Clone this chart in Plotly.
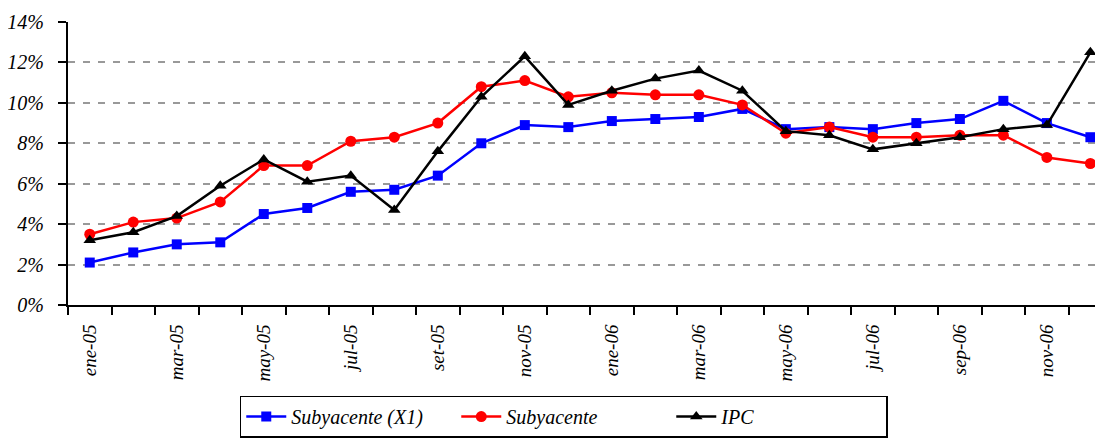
import plotly.graph_objects as go

# Monthly inflation series, ene-05 .. dic-06 (%)
months = ["ene-05", "feb-05", "mar-05", "abr-05", "may-05", "jun-05",
          "jul-05", "ago-05", "set-05", "oct-05", "nov-05", "dic-05",
          "ene-06", "feb-06", "mar-06", "abr-06", "may-06", "jun-06",
          "jul-06", "ago-06", "sep-06", "oct-06", "nov-06", "dic-06"]

subyacente_x1 = [2.1, 2.6, 3.0, 3.1, 4.5, 4.8, 5.6, 5.7, 6.4, 8.0, 8.9, 8.8,
                 9.1, 9.2, 9.3, 9.7, 8.7, 8.8, 8.7, 9.0, 9.2, 10.1, 9.0, 8.3]
subyacente = [3.5, 4.1, 4.3, 5.1, 6.9, 6.9, 8.1, 8.3, 9.0, 10.8, 11.1, 10.3,
              10.5, 10.4, 10.4, 9.9, 8.5, 8.8, 8.3, 8.3, 8.4, 8.4, 7.3, 7.0]
ipc = [3.2, 3.6, 4.4, 5.9, 7.2, 6.1, 6.4, 4.7, 7.6, 10.3, 12.3, 9.9,
       10.6, 11.2, 11.6, 10.6, 8.6, 8.4, 7.7, 8.0, 8.3, 8.7, 8.9, 12.5]

label_idx = list(range(0, len(months), 2))
label_text = [months[i] for i in label_idx]

FONT = "Liberation Serif"
x = list(range(len(months)))

fig = go.Figure()

series = [
    ("Subyacente (X1)", subyacente_x1, "#0000ff", "square", 10),
    ("Subyacente", subyacente, "#ff0000", "circle", 11),
    ("IPC", ipc, "#000000", "triangle-up", 11),
]
for name, vals, color, symbol, size in series:
    fig.add_trace(go.Scatter(
        x=x, y=vals, name=name, mode="lines+markers",
        line=dict(color=color, width=2.5),
        marker=dict(symbol=symbol, size=size, color=color),
    ))

# the page body has an 8px margin, so the figure is offset by 8px
fig.update_layout(
    width=1095, height=430,
    margin=dict(l=60, r=0, t=14, b=130),
    plot_bgcolor="white", paper_bgcolor="white",
    font=dict(family=FONT, size=19, color="black", style="italic"),
    showlegend=True,
    legend=dict(
        orientation="h", x=0.479, xanchor="center", y=-0.32, yanchor="top",
        bordercolor="black", borderwidth=1.5,
        font=dict(family=FONT, size=20, style="italic"),
        entrywidth=160, itemwidth=40,
    ),
)

fig.update_xaxes(
    range=[-0.5, 23.29], automargin=False,
    tickmode="array", tickvals=label_idx, ticktext=label_text,
    tickangle=-90, ticks="", showgrid=False, zeroline=False,
    ticklabelstandoff=10,
    showline=True, linecolor="black", linewidth=2,
    minor=dict(ticks="outside", tick0=0.5, dtick=1, ticklen=8,
               tickwidth=2, tickcolor="black", showgrid=False),
)
fig.update_yaxes(
    range=[0, 14], dtick=2, ticksuffix="%", automargin=False,
    tickfont=dict(size=20),
    ticks="outside", ticklen=8, tickwidth=2, tickcolor="black",
    showline=True, linecolor="black", linewidth=2,
    showgrid=True, gridcolor="#999999", gridwidth=2, griddash="7px,8px",
    zeroline=False, ticklabelstandoff=10,
)

fig.write_html("out.html")
